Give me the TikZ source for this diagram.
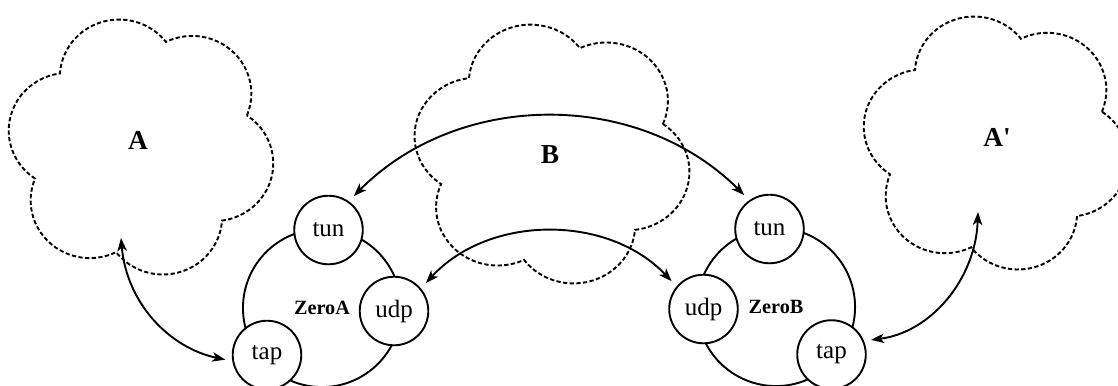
\documentclass[tikz,border=0pt]{standalone}
\usepackage{fontspec}
\setmainfont{Liberation Serif}
\usetikzlibrary{arrows.meta}
% a six-puff cloud: #1 centre, #2 x-scale, #3 y-scale, #4 direction of the first puff
\newcommand\netcloud[4]{%
  \begin{scope}[shift={#1}, xscale=#2, yscale=#3]
    \draw[cloudline] (#4-30:107)
      \foreach \k in {0,...,5}{ arc[start angle=#4+60*\k-69.3, delta angle=138.6, radius=57.2] }
      -- cycle;
  \end{scope}}
\begin{document}
\begin{tikzpicture}[x=0.42pt,y=0.42pt,
  cloudline/.style={thick, dash pattern=on 1.8pt off 1pt},
  netlabel/.style={font=\fontsize{11.5}{14}\selectfont\bfseries, inner sep=0pt},
  zero/.style={circle, draw, thick, minimum size=66.4pt, inner sep=0pt,
    font=\fontsize{8.5}{10}\selectfont\bfseries},
  port/.style={circle, draw, thick, fill=white, minimum size=28.8pt, inner sep=0pt,
    font=\fontsize{10.5}{12}\selectfont},
  tip/.tip={Stealth[length=5.5pt,width=4pt,inset=1.5pt]},
  link/.style={thick, tip-tip, shorten <=3pt, shorten >=3pt}]
\clip (0,0) rectangle (1118,-385);

% networks
\netcloud{(141,-147)}{1.035}{1.008}{47}
\netcloud{(552,-154)}{1.078}{1.02}{46}
\netcloud{(996,-143)}{1.035}{1.0}{47}
\node[netlabel] (A)  at (138,-140) {A};
\node[netlabel] (B)  at (550,-155) {B};
\node[netlabel] (Ap) at (997,-137) {A\textquotesingle};

% the two hosts
\node[zero] (ZA) at (322,-308) {ZeroA};
\node[zero] (ZB) at (776,-307) {ZeroB};

% their interfaces
\node[port] (tunA) at (328.5,-230) {tun};
\node[port] (udpA) at (394,-311)   {udp};
\node[port] (tapA) at (267,-355)   {tap};
\node[port] (tunB) at (769.5,-229) {tun};
\node[port] (udpB) at (703.5,-309) {udp};
\node[port] (tapB) at (831.5,-354.5) {tap};

% links
\coordinate (Ain)  at (121,-238);
\coordinate (Apin) at (978,-212);
\draw[link] (tunA.55) to[bend left=45] (tunB.125);
\draw[link] (udpA.40) to[bend left=47] (udpB.140);
\draw[link, shorten <=0pt] (Ain) to[out=-85, in=168] (tapA.190);
\draw[link, shorten <=0pt] (Apin) to[out=-92, in=7] (tapB.23);
\end{tikzpicture}
\end{document}
